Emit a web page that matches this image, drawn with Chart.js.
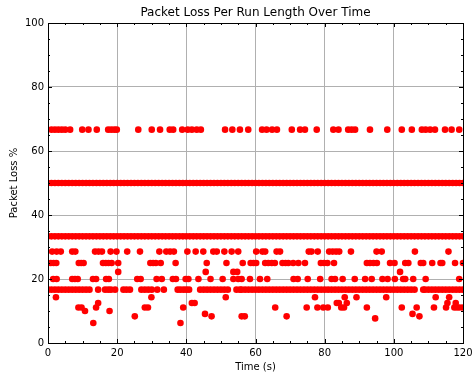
<!DOCTYPE html>
<html>
<head>
<meta charset="utf-8">
<title>Packet Loss Per Run Length Over Time</title>
<script src="https://cdn.jsdelivr.net/npm/chart.js@4.4.1/dist/chart.umd.min.js"></script>
<style>
  html, body { margin: 0; padding: 0; background: #fff; }
</style>
</head>
<body>
<canvas id="lossChart" width="474" height="374"></canvas>
<script>
// run times (s) at which each loss level was measured
const t66 = [1, 2, 3, 4, 5, 6.4, 9.9, 11.7, 14.1, 17.4, 18.3, 19.2, 19.9, 26.1, 30, 32.4, 35.2, 36.2, 38.8, 40.4, 41.6, 43, 44.2, 51.2, 53.3, 55.5, 57.9, 61.9, 63.2, 64.8, 66.2, 70.5, 72.9, 74.3, 77.7, 82.5, 84, 86.8, 87.8, 88.8, 93.1, 98.1, 102.3, 105.2, 108.1, 109.2, 110.5, 111.9, 114.8, 116.7, 118.9];
const t50 = [0, 1, 2, 3, 4, 5, 6, 7, 8, 9, 10, 11, 12, 13, 14, 15, 16, 17, 18, 19, 20, 21, 22, 23, 24, 25, 26, 27, 28, 29, 30, 31, 32, 33, 34, 35, 36, 37, 38, 39, 40, 41, 42, 43, 44, 45, 46, 47, 48, 49, 50, 51, 52, 53, 54, 55, 56, 57, 58, 59, 60, 61, 62, 63, 64, 65, 66, 67, 68, 69, 70, 71, 72, 73, 74, 75, 76, 77, 78, 79, 80, 81, 82, 83, 84, 85, 86, 87, 88, 89, 90, 91, 92, 93, 94, 95, 96, 97, 98, 99, 100, 101, 102, 103, 104, 105, 106, 107, 108, 109, 110, 111, 112, 113, 114, 115, 116, 117, 118, 119, 120];
const t33 = [0, 1, 2, 3, 4, 5, 6, 7, 8, 9, 10, 11, 12, 13, 14, 15, 16, 17, 18, 19, 20, 21, 22, 23, 24, 25, 26, 27, 28, 29, 30, 31, 32, 33, 34, 35, 36, 37, 38, 39, 40, 41, 42, 43, 44, 45, 46, 47, 48, 49, 50, 51, 52, 53, 54, 55, 56, 57, 58, 59, 60, 61, 62, 63, 64, 65, 66, 67, 68, 69, 70, 71, 72, 73, 74, 75, 76, 77, 78, 79, 80, 81, 82, 83, 84, 85, 86, 87, 88, 89, 90, 91, 92, 93, 94, 95, 96, 97, 98, 99, 100, 101, 102, 103, 104, 105, 106, 107, 108, 109, 110, 111, 112, 113, 114, 115, 116, 117, 118, 119, 120];
const t28 = [1.2, 2.5, 3.7, 7, 7.9, 13.6, 14.6, 15.6, 18.1, 19.8, 22.9, 26.6, 32.2, 34.2, 35.3, 36.4, 40.3, 42.7, 44.9, 47.8, 48.8, 51, 53.1, 55, 60.2, 62, 62.8, 66.1, 67.1, 75.4, 76.2, 78, 81.3, 82.3, 83.3, 84.2, 87.6, 95, 96.5, 106.1, 115.8];
const t25 = [0.8, 1.6, 2.4, 8.9, 9.6, 10.3, 15.9, 16.7, 17.5, 18.4, 20.3, 29.6, 30.4, 31.2, 32.6, 36.9, 45.9, 51.6, 56.3, 58.6, 59.4, 60.2, 62.8, 63.7, 64.7, 65.6, 67.8, 68.7, 69.5, 70.9, 72.4, 74.3, 78.9, 79.8, 80.8, 82.7, 92.2, 93.1, 94.1, 95.1, 98.9, 100.2, 103.3, 104.2, 107.8, 108.5, 111.1, 113.5, 114, 117.7, 120];
const t22 = [20.3, 45.6, 53.6, 54.7, 101.8];
const t20 = [1.5, 2.5, 7, 7.8, 8.6, 13, 13.9, 16.8, 17.6, 25.8, 26.8, 31.4, 32.9, 36.1, 37, 39.8, 40.6, 43.5, 47, 50.5, 53.6, 55, 56, 58.4, 61.3, 63.4, 71, 72.2, 75.1, 78.7, 82, 83, 85.2, 88.7, 91.7, 93.6, 96.7, 98.2, 100.3, 102.7, 103.3, 105.6, 109.2, 118.9];
const t16 = [0, 1, 2, 3, 4, 5, 6, 7, 8, 9, 10, 11, 12, 14.5, 16.5, 17.4, 18.2, 19.4, 21.8, 22.7, 23.7, 27, 28, 29, 30, 31.6, 33.5, 37.5, 38.3, 39.2, 40, 40.8, 44, 45, 46, 47, 48, 49, 50, 51, 52, 54.5, 55.5, 56, 57, 58, 59, 60, 61, 62, 63, 64, 65, 66, 67, 68, 69, 70, 71, 72, 73, 74, 75, 76, 77, 78, 79, 80, 81, 82, 83, 84, 85, 86, 87, 88, 89, 90, 91, 92, 93, 94, 95, 96, 97, 98, 99, 100, 101, 102, 103, 104, 105, 106, 108.5, 109, 110, 111, 112, 113, 114, 115, 116, 117, 118, 119, 120];
const t14 = [2.3, 29.9, 51.4, 77.2, 85.8, 89.2, 97.8, 112.1, 116];
const t12 = [14.5, 41.6, 42.4, 83.5, 84.1, 86.4, 115.5, 117.9];
const t11 = [8.8, 9.7, 13.9, 28, 28.9, 39.1, 65.7, 74.8, 77.9, 79.6, 80.9, 84.8, 85.6, 92.2, 102.3, 106.6, 111.6, 115.1, 117.5, 118.3, 119.1, 120];
const t10 = [10.7, 17.8];
const t9 = [45.4, 105.4];
const t8 = [25.1, 47.3, 56, 56.9, 69, 107.4];
const t7 = [94.6];
const t6 = [13.1, 38.3];

// loss level (%) paired with its run times
const lossLevels = [66.67, 50, 33.33, 28.57, 25, 22.22, 20, 16.67, 14.29, 12.5, 11.11, 10, 9.09, 8.33, 7.69, 6.25];
const levelTimes = [t66, t50, t33, t28, t25, t22, t20, t16, t14, t12, t11, t10, t9, t8, t7, t6];

const xTicks = [0, 20, 40, 60, 80, 100, 120];
const yTicks = [0, 20, 40, 60, 80, 100];

const points = [];
for (let i = 0; i < lossLevels.length; i++) {
  levelTimes[i].forEach(function (t) {
    points.push({ x: t, y: lossLevels[i] });
  });
}

// black frame + inward ticks on all four sides (major every step, minor every 5)
const frameTicks = {
  id: 'frameTicks',
  afterDraw(chart) {
    const ctx = chart.ctx;
    const a = chart.chartArea;
    const x = chart.scales.x, y = chart.scales.y;
    ctx.save();
    ctx.strokeStyle = '#000';
    ctx.lineWidth = 1;
    ctx.beginPath();
    for (let v = x.min; v <= x.max; v += 5) {
      const px = Math.round(x.getPixelForValue(v)) + 0.5;
      const len = xTicks.includes(v) ? 4 : 2;
      ctx.moveTo(px, a.bottom); ctx.lineTo(px, a.bottom - len);
      ctx.moveTo(px, a.top); ctx.lineTo(px, a.top + len);
    }
    for (let v = y.min; v <= y.max; v += 5) {
      const py = Math.round(y.getPixelForValue(v)) + 0.5;
      const len = yTicks.includes(v) ? 4 : 2;
      ctx.moveTo(a.left, py); ctx.lineTo(a.left + len, py);
      ctx.moveTo(a.right, py); ctx.lineTo(a.right - len, py);
    }
    ctx.stroke();
    ctx.strokeRect(Math.round(a.left) + 0.5, Math.round(a.top) + 0.5,
      Math.round(a.right - a.left), Math.round(a.bottom - a.top));
    ctx.restore();
  }
};

Chart.defaults.font.family = '"DejaVu Sans", sans-serif';
Chart.defaults.font.size = 10;
Chart.defaults.color = '#000';

const ctx = document.getElementById('lossChart').getContext('2d');
new Chart(ctx, {
  type: 'scatter',
  data: {
    datasets: [{
      label: 'Packet Loss',
      data: points,
      backgroundColor: '#ff0000',
      borderColor: '#ff0000',
      borderWidth: 0,
      pointRadius: 3.3,
      clip: 0
    }]
  },
  options: {
    responsive: false,
    animation: false,
    devicePixelRatio: 1,
    events: [],
    layout: { padding: { right: 11 } },
    plugins: {
      legend: { display: false },
      tooltip: { enabled: false },
      title: {
        display: true,
        text: 'Packet Loss Per Run Length Over Time',
        fullSize: false,
        color: '#000',
        font: { size: 12, weight: 'normal', lineHeight: 1.2 },
        padding: { top: 6, bottom: 2.6 }
      }
    },
    scales: {
      x: {
        type: 'linear',
        min: 0,
        max: 120,
        afterFit: function (s) { s.height = 31; s.paddingLeft = 0; s.paddingRight = 0; },
        afterBuildTicks: function (s) { s.ticks = xTicks.map(v => ({ value: v })); },
        ticks: { padding: 4, maxRotation: 0, color: '#000' },
        grid: { color: '#b0b0b0', lineWidth: 1, drawTicks: false },
        border: { display: false },
        title: { display: true, text: 'Time (s)', color: '#000', padding: { top: 0, bottom: 1 } }
      },
      y: {
        type: 'linear',
        min: 0,
        max: 100,
        afterFit: function (s) { s.width = 48; s.paddingTop = 0; s.paddingBottom = 0; },
        afterBuildTicks: function (s) { s.ticks = yTicks.map(v => ({ value: v })); },
        ticks: { padding: 4, color: '#000' },
        grid: { color: '#b0b0b0', lineWidth: 1, drawTicks: false },
        border: { display: false },
        title: { display: true, text: 'Packet Loss %', color: '#000', padding: { top: 8, bottom: 0 } }
      }
    }
  },
  plugins: [frameTicks]
});
</script>
</body>
</html>
